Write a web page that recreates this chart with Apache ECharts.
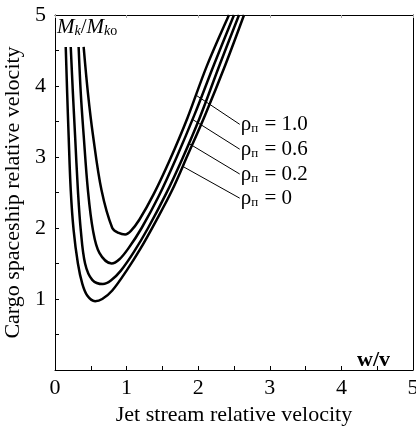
<!DOCTYPE html>
<html>
<head>
<meta charset="utf-8">
<title>Cargo spaceship relative velocity</title>
<script src="https://cdn.jsdelivr.net/npm/echarts@6/dist/echarts.min.js"></script>
<style>
  html, body { margin: 0; padding: 0; background: #fff; }
  #main { width: 416px; height: 426px; }
</style>
</head>
<body>
<div id="main"></div>
<script>
// curves, [w/v, Mk/Mko]
var rho10 = [[0.40,4.55],[0.46,3.9],[0.53,3.31],[0.65,2.53],[0.80,2.0],[0.89,1.93],[0.98,1.91],[1.06,1.96],[1.18,2.12],[1.38,2.48],[1.60,2.95],[1.85,3.55],[2.12,4.28],[2.43,5.0]];
var rho06 = [[0.33,4.55],[0.36,3.9],[0.40,3.31],[0.46,2.53],[0.53,1.97],[0.62,1.65],[0.79,1.50],[0.90,1.56],[1.03,1.72],[1.21,2.0],[1.45,2.45],[1.70,3.0],[1.95,3.6],[2.22,4.3],[2.50,5.0]];
var rho02 = [[0.22,4.55],[0.25,3.9],[0.28,3.31],[0.32,2.53],[0.36,1.97],[0.42,1.5],[0.52,1.27],[0.67,1.21],[0.78,1.26],[0.92,1.40],[1.10,1.66],[1.30,2.0],[1.55,2.48],[1.78,2.98],[2.02,3.55],[2.30,4.3],[2.57,5.0]];
var rho00 = [[0.15,4.55],[0.17,3.9],[0.19,3.31],[0.22,2.53],[0.26,1.97],[0.32,1.5],[0.38,1.22],[0.45,1.05],[0.56,0.97],[0.66,1.0],[0.80,1.12],[1.00,1.40],[1.20,1.72],[1.40,2.08],[1.63,2.52],[1.85,3.02],[2.10,3.6],[2.38,4.3],[2.64,5.0]];

var rhoNames = ['1.0', '0.6', '0.2', '0'];
// leader lines: start on the curve, end at the label
var leaderFrom = [[1.97,3.87],[1.92,3.53],[1.87,3.19],[1.78,2.87]];
var leaderTo = [[2.58,3.46],[2.58,3.11],[2.58,2.76],[2.58,2.42]];

var chart = echarts.init(document.getElementById('main'));
var serif = '"Liberation Serif", "DejaVu Serif", serif';

var curves = [rho10, rho06, rho02, rho00];
var series = [];
for (var i = 0; i < curves.length; i++) {
    series.push({
        type: 'line',
        data: curves[i],
        smooth: 0.35,
        symbol: 'none',
        silent: true,
        lineStyle: {color: '#000', width: 2.5}
    });
}
for (var j = 0; j < leaderFrom.length; j++) {
    series.push({
        type: 'line',
        data: [leaderFrom[j], leaderTo[j]],
        symbol: 'none',
        silent: true,
        lineStyle: {color: '#000', width: 1},
        endLabel: {
            show: true,
            distance: 1,
            formatter: '{a|ρ}{b|п}{a| = ' + rhoNames[j] + '}',
            rich: {
                a: {fontFamily: serif, fontSize: 21, color: '#000'},
                b: {fontFamily: serif, fontSize: 13, color: '#000', padding: [9, 1, 0, 0]}
            }
        }
    });
}

var tickStyle = {show: true, inside: true, length: 4, lineStyle: {color: '#000'}};
var minorStyle = {show: true, splitNumber: 2, length: 4, lineStyle: {color: '#000'}};

var option = {
    animation: false,
    grid: {left: 55, right: 3, top: 15, bottom: 56, outerBoundsMode: 'none', containLabel: false},
    xAxis: [{
        type: 'value', min: 0, max: 5, interval: 1,
        name: 'Jet stream relative velocity',
        nameLocation: 'middle', nameGap: 30,
        nameTextStyle: {fontFamily: serif, fontSize: 22, color: '#000'},
        axisLine: {lineStyle: {color: '#000', width: 1}},
        axisTick: tickStyle,
        minorTick: minorStyle,
        splitLine: {show: false},
        axisLabel: {fontFamily: serif, fontSize: 22, color: '#000', margin: 7}
    }, {
        type: 'value', min: 0, max: 5, interval: 1, position: 'top',
        axisLine: {show: true, onZero: false, lineStyle: {color: '#000', width: 1}},
        axisTick: {show: true, inside: true, length: 3, lineStyle: {color: '#aaa'}},
        axisLabel: {show: false},
        splitLine: {show: false}
    }],
    yAxis: [{
        type: 'value', min: 0, max: 5, interval: 1,
        name: 'Cargo spaceship relative velocity',
        nameLocation: 'middle', nameGap: 30,
        nameTextStyle: {fontFamily: serif, fontSize: 22, color: '#000'},
        axisLine: {show: true, lineStyle: {color: '#000', width: 1}},
        axisTick: tickStyle,
        minorTick: minorStyle,
        splitLine: {show: false},
        axisLabel: {
            fontFamily: serif, fontSize: 22, color: '#000', margin: 9,
            formatter: function (v) { return v === 0 ? '' : v; }
        }
    }, {
        type: 'value', min: 0, max: 5, interval: 1, position: 'right',
        axisLine: {show: true, onZero: false, lineStyle: {color: '#000', width: 1}},
        axisTick: {show: false},
        axisLabel: {show: false},
        splitLine: {show: false}
    }],
    graphic: [{
        type: 'text', left: 57, top: 17,
        style: {
            text: '{i|M}{s|k}{n|/}{i|M}{s|k}{o|o}',
            rich: {
                i: {fontFamily: serif, fontStyle: 'italic', fontSize: 21, fill: '#000'},
                n: {fontFamily: serif, fontSize: 21, fill: '#000'},
                s: {fontFamily: serif, fontStyle: 'italic', fontSize: 14, fill: '#000', padding: [8, 0, 0, 0]},
                o: {fontFamily: serif, fontSize: 14, fill: '#000', padding: [8, 0, 0, 0]}
            }
        }
    }, {
        type: 'text', left: 357, top: 349,
        style: {text: 'w/v', fontFamily: serif, fontWeight: 'bold', fontSize: 22, fill: '#000'}
    }],
    series: series
};
chart.setOption(option);
</script>
</body>
</html>
